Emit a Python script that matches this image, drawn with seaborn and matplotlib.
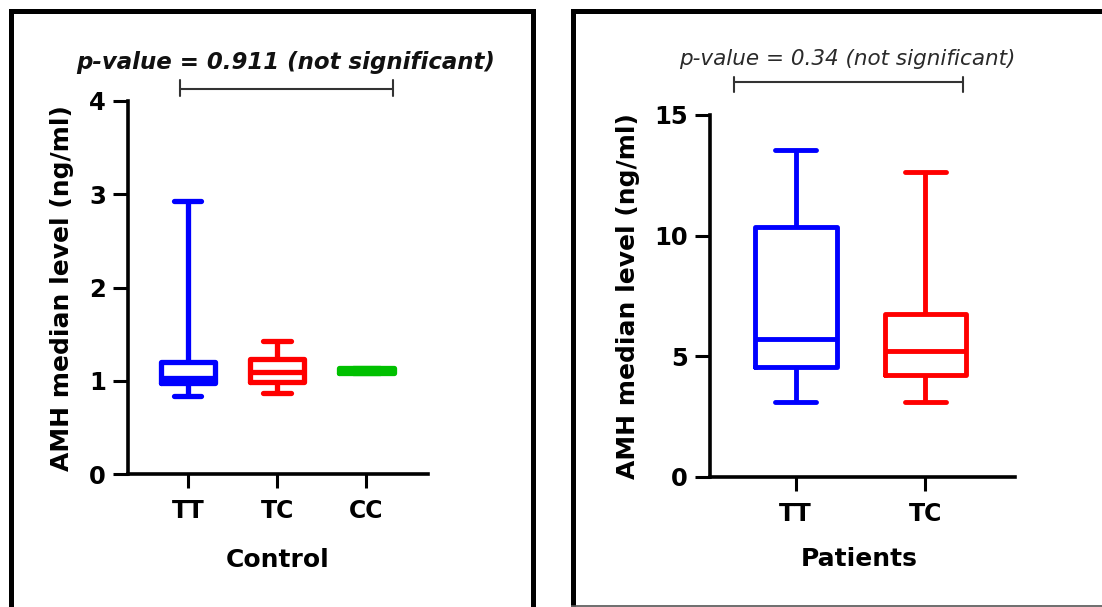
import numpy as np
import pandas as pd
import matplotlib
matplotlib.use("Agg")
import matplotlib.pyplot as plt
import seaborn as sns
from matplotlib.lines import Line2D

# ---- data: box summaries (min, Q1, median, Q3, max) ----
control_genotypes = ["TT", "TC", "CC"]
control_TT = [0.84, 0.98, 1.03, 1.20, 2.93]
control_TC = [0.87, 0.99, 1.09, 1.23, 1.43]
control_CC = [1.085, 1.085, 1.11, 1.14, 1.14]

patient_genotypes = ["TT", "TC"]
patients_TT = [3.11, 4.57, 5.70, 10.36, 13.55]
patients_TC = [3.11, 4.21, 5.22, 6.76, 12.63]

control_yticks = [0, 1, 2, 3, 4]
patients_yticks = [0, 5, 10, 15]
control_title = "p-value = 0.911 (not significant)"
patients_title = "p-value = 0.34 (not significant)"
y_label = "AMH median level (ng/ml)"
control_xlabel = "Control"
patients_xlabel = "Patients"

palette = {"TT": "#0000ff", "TC": "#ff0000", "CC": "#00c000"}

ctrl_df = pd.DataFrame({
    "Genotype": np.repeat(control_genotypes, 5),
    "AMH": control_TT + control_TC + control_CC,
})
pat_df = pd.DataFrame({
    "Genotype": np.repeat(patient_genotypes, 5),
    "AMH": patients_TT + patients_TC,
})

sns.set_style("ticks")
plt.rcParams["font.family"] = ["DejaVu Sans"]

W, H = 1102, 607
fig = plt.figure(figsize=(W / 100, H / 100), dpi=100)


def px_axes(l, t, r, b):
    return fig.add_axes([l / W, 1 - b / H, (r - l) / W, (b - t) / H])


def fx(x):
    return x / W


def fy(y):
    return 1 - y / H


ax1 = px_axes(128, 101, 428, 474)
ax2 = px_axes(710, 115, 1015, 477)

sns.boxplot(data=ctrl_df, x="Genotype", y="AMH", hue="Genotype",
            order=control_genotypes, hue_order=control_genotypes,
            palette=palette, fill=False, whis=(0, 100), width=0.61,
            linewidth=3.8, legend=False, showfliers=False, ax=ax1)
sns.boxplot(data=pat_df, x="Genotype", y="AMH", hue="Genotype",
            order=patient_genotypes, hue_order=patient_genotypes,
            palette=palette, fill=False, whis=(0, 100), width=0.63,
            linewidth=3.5, legend=False, showfliers=False, ax=ax2)

ax1.set_ylim(0, 4)
ax1.set_xlim(-0.67, 2.69)
ax1.set_yticks(control_yticks)
ax2.set_ylim(0, 15)
ax2.set_xlim(-0.66, 1.69)
ax2.set_yticks(patients_yticks)

for ax, xl, lx, ly in [(ax1, control_xlabel, 278, 548), (ax2, patients_xlabel, 859, 547)]:
    sns.despine(ax=ax)
    for s in ("left", "bottom"):
        ax.spines[s].set_linewidth(2.6)
        ax.spines[s].set_color("black")
    ax.tick_params(axis="y", length=11, width=2.2, pad=5, labelsize=17.5, colors="black")
    ax.tick_params(axis="x", length=10, width=2.2, pad=8, labelsize=17, colors="black")
    for lab in ax.get_xticklabels() + ax.get_yticklabels():
        lab.set_fontweight("bold")
    ax.set_xlabel(xl, fontsize=18, fontweight="bold", color="black", va="top")
    ax.xaxis.set_label_coords(fx(lx), fy(ly), transform=fig.transFigure)
    ax.set_ylabel(y_label, fontsize=18, fontweight="bold", color="black")

ax1.yaxis.set_label_coords(fx(74), fy(288), transform=fig.transFigure)
ax2.yaxis.set_label_coords(fx(640), fy(296), transform=fig.transFigure)

# significance brackets (data coords)
br_col = "#333333"
ax1.plot([-0.09, 2.30], [4.13, 4.13], color=br_col, lw=1.5, clip_on=False)
for xb in (-0.09, 2.30):
    ax1.plot([xb, xb], [4.05, 4.23], color=br_col, lw=1.5, clip_on=False)
ax2.plot([-0.476, 1.29], [16.37, 16.37], color=br_col, lw=1.5, clip_on=False)
for xb in (-0.476, 1.29):
    ax2.plot([xb, xb], [15.95, 16.58], color=br_col, lw=1.5, clip_on=False)

fig.text(fx(286), fy(62), control_title, ha="center", va="center",
         fontsize=16.5, fontweight="bold", style="italic", color="#111111")
fig.text(fx(847), fy(59), patients_title, ha="center", va="center",
         fontsize=15.5, fontweight="normal", style="italic", color="#2a2a2a")

# panel frames (polylines with mitred corners)
fl = 3.6
frames = [
    ([10.5, 10.5, 532.5, 532.5], [640, 10.5, 10.5, 640], "black", fl),
    ([573, 573, 1140], [606, 10.5, 10.5], "black", fl),
    ([571, 1140], [605.5, 605.5], "#555555", 1.2),
]
for xs, ys, c, lw in frames:
    fig.add_artist(Line2D([fx(v) for v in xs], [fy(v) for v in ys],
                          color=c, lw=lw, transform=fig.transFigure,
                          solid_joinstyle="miter", solid_capstyle="butt"))

fig.savefig("out.png", dpi=100)
